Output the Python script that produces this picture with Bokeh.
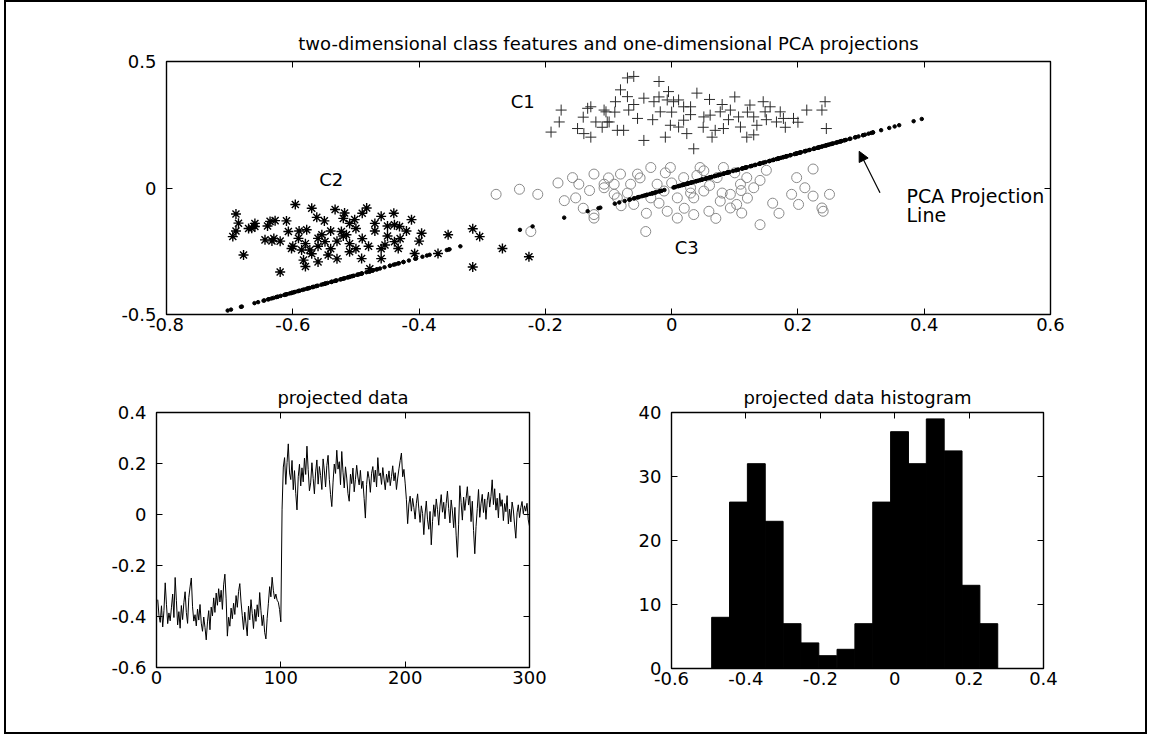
from bokeh.plotting import figure
from bokeh.models import FixedTicker, LinearAxis, Range1d, Label, Arrow, NormalHead
from bokeh.layouts import column, row
from bokeh.embed import file_html
from bokeh.resources import INLINE

FONT = "DejaVu Sans"

# ---------------- data ----------------
c1_x = [-0.175, -0.178, -0.191, -0.149, -0.133, -0.128, -0.104, -0.102, -0.089, -0.081, -0.070, -0.086, -0.068,
        -0.060, -0.107, -0.099, -0.128, -0.070, -0.054, -0.076, -0.044, -0.020, -0.028, -0.018, -0.005, 0.003,
        0.011, 0.019, 0.030, 0.040, -0.002, -0.010, 0.011, 0.035, 0.024, 0.061, 0.077, 0.093, 0.069, 0.064,
        0.082, 0.109, 0.119, 0.106, 0.124, 0.145, 0.148, 0.130, 0.172, 0.177, 0.193, 0.214, 0.238, 0.243,
        0.245, 0.156, 0.135, 0.166, -0.120, -0.139, -0.044, -0.007, 0.019, 0.051, 0.03, -0.03, 0.08, 0.10,
        0.12, -0.09, -0.14, 0.18, 0.05, 0.00, -0.06, 0.13, 0.09, 0.20, -0.02, 0.06, -0.11, 0.15]
c1_y = [0.308, 0.261, 0.221, 0.235, 0.315, 0.201, 0.301, 0.261, 0.341, 0.388, 0.435, 0.228, 0.308,
        0.441, 0.308, 0.261, 0.321, 0.361, 0.275, 0.228, 0.188, 0.421, 0.341, 0.301, 0.381, 0.341,
        0.348, 0.321, 0.321, 0.375, 0.248, 0.201, 0.241, 0.155, 0.215, 0.288, 0.301, 0.308, 0.228, 0.201,
        0.235, 0.241, 0.201, 0.281, 0.328, 0.341, 0.301, 0.281, 0.301, 0.275, 0.275, 0.308, 0.308, 0.341,
        0.235, 0.321, 0.248, 0.261, 0.261, 0.215, 0.355, 0.348, 0.268, 0.281, 0.29, 0.27, 0.33, 0.36,
        0.30, 0.30, 0.28, 0.24, 0.24, 0.30, 0.33, 0.21, 0.27, 0.26, 0.36, 0.35, 0.24, 0.27]

c2_x = [-0.690, -0.686, -0.695, -0.678, -0.665, -0.660, -0.636, -0.628, -0.644, -0.633, -0.620, -0.596,
        -0.607, -0.602, -0.591, -0.586, -0.583, -0.578, -0.573, -0.562, -0.560, -0.560, -0.554, -0.549,
        -0.544, -0.533, -0.523, -0.518, -0.515, -0.510, -0.502, -0.491, -0.483, -0.478, -0.460, -0.460,
        -0.454, -0.439, -0.439, -0.433, -0.431, -0.412, -0.407, -0.396, -0.370, -0.354, -0.315, -0.304,
        -0.315, -0.268, -0.226, -0.54, -0.52, -0.50, -0.53, -0.49, -0.47, -0.51, -0.56, -0.58, -0.62,
        -0.64, -0.61, -0.66, -0.45, -0.48, -0.43, -0.44, -0.50, -0.57, -0.53, -0.59, -0.47, -0.42, -0.55,
        -0.60, -0.63, -0.52, -0.46, -0.40, -0.49, -0.57, -0.51, -0.45, -0.54, -0.67, -0.69, -0.58]
c2_y = [-0.103, -0.139, -0.192, -0.265, -0.159, -0.152, -0.132, -0.129, -0.205, -0.209, -0.332, -0.065,
        -0.172, -0.239, -0.199, -0.245, -0.285, -0.165, -0.245, -0.116, -0.199, -0.292, -0.185, -0.212,
        -0.265, -0.085, -0.172, -0.099, -0.185, -0.252, -0.125, -0.279, -0.079, -0.319, -0.112, -0.279,
        -0.225, -0.145, -0.212, -0.239, -0.152, -0.125, -0.259, -0.179, -0.259, -0.185, -0.161, -0.192,
        -0.312, -0.239, -0.272, -0.17, -0.19, -0.16, -0.21, -0.20, -0.17, -0.14, -0.23, -0.22, -0.21,
        -0.15, -0.13, -0.14, -0.19, -0.23, -0.20, -0.10, -0.24, -0.26, -0.28, -0.17, -0.14, -0.17, -0.13,
        -0.23, -0.20, -0.12, -0.24, -0.21, -0.10, -0.08, -0.22, -0.15, -0.24, -0.16, -0.17, -0.31]

c3_x = [-0.278, -0.241, -0.212, -0.223, -0.157, -0.147, -0.152, -0.123, -0.107, -0.091, -0.123,
        -0.107, -0.123, -0.081, -0.065, -0.060, -0.041, -0.033, -0.023, -0.002, -0.007, 0.009, 0.019,
        0.030, 0.035, 0.045, 0.059, 0.051, 0.072, 0.082, 0.093, 0.103, 0.119, 0.109, 0.130, 0.140, 0.077,
        0.198, 0.224, 0.190, 0.211, 0.224, 0.238, 0.250, 0.240, 0.201, -0.033, -0.012, -0.086, -0.091,
        0.035, 0.009, 0.093, 0.111, 0.051, -0.054, -0.18, -0.17, -0.14, -0.10, -0.07, -0.05, -0.02, 0.00,
        0.02, 0.04, 0.06, 0.08, 0.10, 0.12, 0.14, 0.16, -0.13, -0.04, 0.07, 0.15, -0.01, 0.03, -0.08,
        0.11, 0.17]
c3_y = [-0.025, -0.005, -0.025, -0.172, 0.041, 0.015, -0.039, 0.055, 0.015, -0.025, -0.119,
        0.001, -0.105, 0.055, 0.015, -0.065, -0.172, 0.081, 0.015, 0.081, -0.092, -0.039, 0.041,
        0.001, -0.105, 0.081, -0.092, -0.012, 0.041, 0.081, -0.025, -0.065, 0.041, 0.015, 0.001, -0.145,
        -0.052, 0.041, 0.075, -0.025, 0.001, -0.032, -0.079, -0.025, -0.092, -0.065, -0.039, -0.012,
        -0.039, 0.015, -0.039, -0.119, -0.079, -0.099, 0.068, 0.055, 0.02, -0.05, -0.08, 0.04, -0.02,
        0.04, -0.06, 0.02, -0.08, 0.05, 0.01, -0.02, 0.06, -0.04, 0.03, -0.06, -0.01, -0.10, -0.12,
        0.07, 0.06, -0.02, -0.07, -0.01, -0.10]

proj_seg1 = [-0.334, -0.397, -0.423, -0.358, -0.441, -0.376, -0.268, -0.352, -0.428, -0.386,
             -0.417, -0.366, -0.312, -0.404, -0.247, -0.338, -0.433, -0.381, -0.446, -0.357,
             -0.412, -0.346, -0.303, -0.384, -0.427, -0.326, -0.284, -0.249, -0.362, -0.418,
             -0.393, -0.437, -0.371, -0.414, -0.353, -0.426, -0.458, -0.402, -0.443, -0.4917,
             -0.421, -0.377, -0.452, -0.363, -0.398, -0.327, -0.384, -0.308, -0.356, -0.291,
             -0.343, -0.297, -0.372, -0.276, -0.234, -0.331, -0.477, -0.403, -0.438, -0.367,
             -0.409, -0.348, -0.392, -0.318, -0.364, -0.302, -0.271, -0.343, -0.397, -0.451,
             -0.383, -0.429, -0.476, -0.359, -0.413, -0.334, -0.388, -0.447, -0.372, -0.419,
             -0.354, -0.401, -0.306, -0.377, -0.436, -0.394, -0.462, -0.488, -0.407, -0.348,
             -0.283, -0.323, -0.246, -0.297, -0.331, -0.312, -0.336, -0.344, -0.373, -0.421]
proj_seg2 = [0.021, 0.186, 0.223, 0.118, 0.204, 0.277, 0.163, 0.137, 0.212, 0.097,
             0.172, 0.083, 0.018, 0.148, 0.197, 0.112, 0.183, 0.128, 0.221, 0.157,
             0.268, 0.176, 0.093, 0.124, 0.203, 0.142, 0.081, 0.167, 0.214, 0.119,
             0.188, 0.153, 0.098, 0.218, 0.171, 0.108, 0.192, 0.232, 0.138, 0.078,
             0.031, 0.127, 0.198, 0.161, 0.252, 0.178, 0.207, 0.117, 0.247, 0.166,
             0.104, 0.187, 0.143, 0.082, 0.052, 0.158, 0.121, 0.182, 0.089, 0.138,
             0.193, 0.147, 0.116, 0.173, 0.102, 0.131, 0.062, -0.014, 0.118, 0.169,
             0.141, 0.087, 0.162, 0.188, 0.127, 0.174, 0.108, 0.223, 0.152, 0.163,
             0.118, 0.184, 0.139, 0.097, 0.158, 0.126, 0.171, 0.113, 0.149, 0.191,
             0.132, 0.164, 0.098, 0.143, 0.179, 0.212, 0.241, 0.148, 0.177, 0.123]
proj_seg3 = [0.058, -0.036, 0.041, 0.072, 0.013, 0.063, 0.027, -0.018, 0.044, 0.081,
             0.022, -0.031, 0.034, 0.004, -0.079, 0.002, 0.053, -0.021, -0.058, 0.012,
             -0.119, -0.027, 0.038, -0.008, 0.061, 0.019, -0.042, 0.033, 0.078, 0.009,
             0.048, -0.017, 0.043, 0.092, 0.024, -0.033, 0.057, 0.014, -0.052, 0.028,
             -0.081, -0.168, -0.038, 0.113, 0.047, -0.022, 0.068, 0.016, 0.063, 0.109,
             0.037, 0.073, -0.028, 0.052, -0.063, -0.154, -0.047, 0.023, 0.098, -0.011,
             0.042, 0.079, 0.008, 0.061, -0.019, 0.054, 0.088, 0.029, 0.071, 0.136,
             0.039, 0.101, 0.017, 0.064, -0.013, 0.083, 0.032, 0.058, -0.024, 0.043,
             0.011, 0.074, -0.037, 0.021, -0.029, 0.049, 0.018, -0.041, -0.093, 0.007,
             0.038, -0.012, 0.027, 0.051, 0.003, 0.034, 0.013, 0.044, -0.021, -0.046]
projected = proj_seg1 + proj_seg2 + proj_seg3
sample_index = list(range(1, len(projected) + 1))

# PCA direction used to place the projected values on the line (x, y per unit of projection)
pca_vec = [1.43, 0.985]

hist_centers = [-0.468, -0.420, -0.372, -0.324, -0.276, -0.228, -0.180, -0.131,
                -0.083, -0.035, 0.013, 0.061, 0.109, 0.157, 0.205, 0.253]
hist_counts = [8, 26, 32, 23, 7, 4, 2, 3, 7, 26, 37, 32, 39, 34, 13, 7]
hist_width = 0.048

top_xticks = [-0.8, -0.6, -0.4, -0.2, 0.0, 0.2, 0.4, 0.6]
top_xlabels = ["-0.8", "-0.6", "-0.4", "-0.2", "0", "0.2", "0.4", "0.6"]
top_yticks = [-0.5, 0.0, 0.5]
top_ylabels = ["-0.5", "0", "0.5"]
ts_xticks = [0, 100, 200, 300]
ts_xlabels = ["0", "100", "200", "300"]
ts_yticks = [-0.6, -0.4, -0.2, 0.0, 0.2, 0.4]
ts_ylabels = ["-0.6", "-0.4", "-0.2", "0", "0.2", "0.4"]
h_xticks = [-0.6, -0.4, -0.2, 0.0, 0.2, 0.4]
h_xlabels = ["-0.6", "-0.4", "-0.2", "0", "0.2", "0.4"]
h_yticks = [0, 10, 20, 30, 40]
h_ylabels = ["0", "10", "20", "30", "40"]

# annotation positions (data coordinates)
lbl_c1 = (-0.255, 0.343)
lbl_c2 = (-0.558, 0.034)
lbl_c3 = (0.005, -0.236)
lbl_pca1 = (0.372, -0.030)
lbl_pca2 = (0.372, -0.105)
arrow_from = (0.330, -0.019)
arrow_to = (0.297, 0.145)


# ---------------- helpers ----------------
def style_axis(ax, ticks, labels, show_labels=True):
    ax.ticker = FixedTicker(ticks=ticks)
    ax.axis_line_color = None
    ax.major_tick_in = 6
    ax.major_tick_out = 0
    ax.major_tick_line_color = "black"
    ax.major_tick_line_width = 1
    ax.minor_tick_line_color = None
    ax.major_label_text_font = FONT
    ax.major_label_text_color = "black"
    if show_labels:
        ax.major_label_overrides = dict(zip(ticks, labels))
        ax.major_label_text_font_size = "18px"
    else:
        ax.major_label_overrides = {t: "" for t in ticks}
        ax.major_label_text_font_size = "1px"
        ax.major_label_standoff = 0


def make_fig(title, xr, yr, xticks, xlabels, yticks, ylabels, fw, fh, bl, br, bt, bb, title_gap):
    p = figure(frame_width=fw, frame_height=fh, x_range=Range1d(*xr), y_range=Range1d(*yr),
               toolbar_location=None, output_backend="svg",
               min_border_left=bl, min_border_right=br, min_border_top=bt, min_border_bottom=bb)
    p.grid.visible = False
    p.outline_line_color = "black"
    p.outline_line_width = 1.4
    p.background_fill_color = "white"
    p.border_fill_color = "white"
    style_axis(p.xaxis[0], xticks, xlabels)
    style_axis(p.yaxis[0], yticks, ylabels)
    p.xaxis[0].major_label_standoff = 3
    p.yaxis[0].major_label_standoff = 10
    top = LinearAxis()
    style_axis(top, xticks, xlabels, show_labels=False)
    p.add_layout(top, "above")
    right = LinearAxis()
    style_axis(right, yticks, ylabels, show_labels=False)
    p.add_layout(right, "right")
    p.title.text = title
    p.title.align = "center"
    p.title.text_font = FONT
    p.title.text_font_size = "18px"
    p.title.text_font_style = "normal"
    p.title.text_color = "black"
    p.title.standoff = title_gap
    return p


# ---------------- top: scatter with PCA projection line ----------------
p1 = make_fig("two-dimensional class features and one-dimensional PCA projections",
              (-0.8, 0.6), (-0.5, 0.5), top_xticks, top_xlabels, top_yticks, top_ylabels,
              884, 253, 160, 95, 59, 47, 16)

p1.scatter(c3_x, c3_y, marker="circle", size=10, fill_color=None, line_color="#8a8a8a", line_width=1)
p1.scatter(c1_x, c1_y, marker="cross", size=11, line_color="#2a2a2a", line_width=1)
p1.scatter(c2_x, c2_y, marker="asterisk", size=10, line_color="black", line_width=1.4)
line_x = [pca_vec[0] * t for t in projected]
line_y = [pca_vec[1] * t for t in projected]
p1.scatter(line_x, line_y, marker="circle", size=3.5, fill_color="black", line_color="black")

for (tx, ty), txt, fs in [(lbl_c1, "C1", "18px"), (lbl_c2, "C2", "18px"), (lbl_c3, "C3", "18px"),
                          (lbl_pca1, "PCA Projection", "19px"), (lbl_pca2, "Line", "19px")]:
    p1.add_layout(Label(x=tx, y=ty, text=txt, text_font=FONT, text_font_size=fs,
                        text_color="black", text_baseline="alphabetic", text_align="left"))
p1.add_layout(Arrow(end=NormalHead(size=10, fill_color="black", line_color="black"),
                    x_start=arrow_from[0], y_start=arrow_from[1],
                    x_end=arrow_to[0], y_end=arrow_to[1], line_color="black", line_width=1.2))

# ---------------- bottom left: projected data ----------------
p2 = make_fig("projected data", (0, 300), (-0.6, 0.4), ts_xticks, ts_xlabels, ts_yticks, ts_ylabels,
              373, 255, 150, 30, 50, 66, 10)
p2.line(sample_index, projected, line_color="black", line_width=1)

# ---------------- bottom right: histogram ----------------
p3 = make_fig("projected data histogram", (-0.6, 0.4), (0, 40), h_xticks, h_xlabels, h_yticks, h_ylabels,
              372, 256, 112, 102, 51, 64, 10)
p3.vbar(x=hist_centers, top=hist_counts, width=hist_width, bottom=0,
        fill_color="black", line_color="black")

layout = column(p1, row(p2, p3, spacing=0), spacing=0,
                styles={"border": "2px solid black", "background-color": "white", "margin-left": "4px"})

open("out.html", "w").write(file_html(layout, INLINE))
